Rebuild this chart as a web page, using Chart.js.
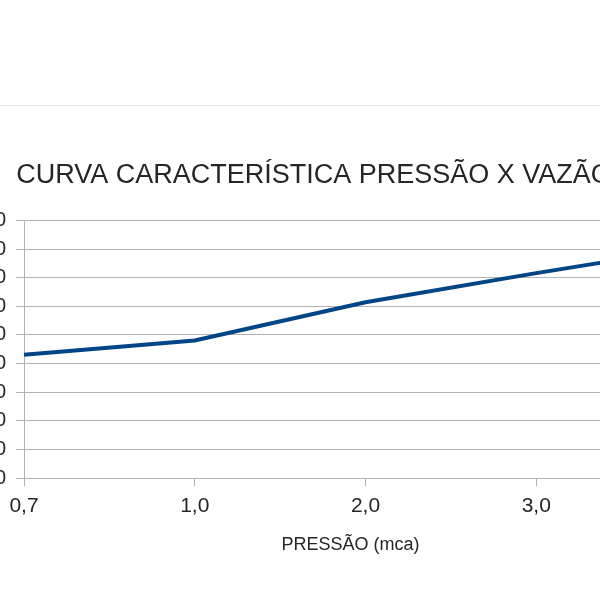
<!DOCTYPE html>
<html>
<head>
<meta charset="utf-8">
<script src="https://cdn.jsdelivr.net/npm/chart.js@4/dist/chart.umd.min.js"></script>
<style>
  html, body { margin: 0; padding: 0; background: #ffffff; width: 600px; height: 600px; overflow: hidden; position: relative; }
  #sep { position: absolute; left: 0; top: 105px; width: 600px; height: 0; border-top: 1px solid #e3e3e3; }
  #wrap { position: absolute; left: -79px; top: 130px; width: 815px; height: 430px; }
</style>
</head>
<body>
<div id="sep"></div>
<div id="wrap"><canvas id="c"></canvas></div>
<script>
const categories = ['0,7', '1,0', '2,0', '3,0', '4,0'];
const vazao = [431, 481, 614, 716, 812];
const yTicks = [0, 100, 200, 300, 400, 500, 600, 700, 800, 900];
const chartTitle = 'CURVA CARACTERÍSTICA PRESSÃO X VAZÃO';
const xTitle = 'PRESSÃO (mca)';

const gridColor = '#b3b3b3';
const textColor = '#262626';

new Chart(document.getElementById('c'), {
  type: 'line',
  data: {
    labels: categories,
    datasets: [{
      label: 'Vazão',
      data: vazao,
      borderColor: '#004586',
      backgroundColor: '#004586',
      borderWidth: 4,
      pointRadius: 0,
      tension: 0,
      fill: false
    }]
  },
  options: {
    responsive: true,
    maintainAspectRatio: false,
    animation: false,
    layout: { padding: { left: 0, right: 29, top: 0, bottom: 0 } },
    plugins: {
      legend: { display: false },
      tooltip: { enabled: false },
      title: {
        display: true,
        text: chartTitle,
        color: textColor,
        font: { family: 'Liberation Sans', size: 27, weight: 'normal' },
        padding: { top: 29, bottom: 29 }
      }
    },
    scales: {
      x: {
        type: 'category',
        offset: false,
        grid: { display: true, drawOnChartArea: false, drawTicks: true, tickLength: 8, color: gridColor, lineWidth: 1 },
        border: { display: true, color: gridColor, width: 1 },
        ticks: { color: textColor, font: { family: 'Liberation Sans', size: 21 }, padding: 7, maxRotation: 0, autoSkip: false },
        title: { display: true, text: xTitle + '      ', color: textColor, font: { family: 'Liberation Sans', size: 18 }, padding: { top: 9, bottom: 4 } }
      },
      y: {
        min: 0,
        max: 900,
        afterFit: (s) => { s.width = 103; },
        afterBuildTicks: (s) => { s.ticks = yTicks.map(v => ({ value: v })); },
        grid: { display: true, drawOnChartArea: true, drawTicks: true, tickLength: 8, color: gridColor, lineWidth: 1 },
        border: { display: true, color: gridColor, width: 1 },
        ticks: { color: textColor, font: { family: 'Liberation Sans', size: 20 }, padding: 10, autoSkip: false }
      }
    }
  }
});
</script>
</body>
</html>
